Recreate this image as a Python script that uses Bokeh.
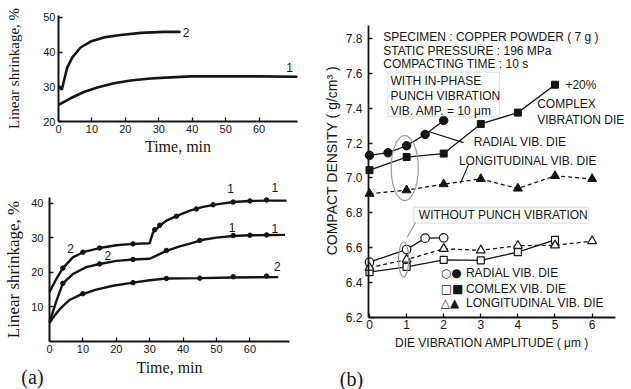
import math
from bokeh.plotting import figure
from bokeh.layouts import row, column
from bokeh.models import Label, BoxAnnotation, FixedTicker, Range1d
from bokeh.embed import file_html
from bokeh.resources import INLINE

# ---------------- Panel (a) upper: linear shrinkage vs time ----------------
top_c2_time = [0, 1.0, 1.6, 2.6, 4.1, 6.6, 9.6, 13.6, 18.6, 24.6, 31.5, 36.5]
top_c2_shrink = [30.0, 29.2, 31.6, 35.5, 38.4, 41.3, 43.0, 44.2, 44.9, 45.5, 45.8, 45.8]
top_c1_time = [0, 3.6, 7.6, 11.6, 16.6, 21.6, 27.5, 33.5, 39.5, 50, 60, 71.5]
top_c1_shrink = [24.8, 26.7, 28.5, 29.8, 31.0, 31.8, 32.4, 32.7, 33.0, 33.0, 33.0, 32.9]
top_time_ticks = [0, 10, 20, 30, 40, 50, 60]
top_shrink_ticks = [20, 30, 40, 50]

# ---------------- Panel (a) lower: linear shrinkage vs time ----------------
bot_up_time = [0, 2, 4, 7, 10, 15, 20, 25, 30, 31, 33, 35, 38, 42, 46, 50, 55, 60, 65, 71]
bot_up_shrink = [14.3, 18.0, 21.2, 24.3, 25.8, 27.0, 27.8, 28.2, 28.4, 31.5, 33.5, 34.9,
                 36.2, 37.8, 38.9, 39.6, 40.3, 40.6, 40.7, 40.7]
bot_mid_time = [0, 2, 4, 7, 11, 15, 20, 25, 30, 32, 35, 39, 42, 46, 50, 55, 60, 70.5]
bot_mid_shrink = [5.5, 11.5, 16.8, 19.5, 21.5, 22.4, 23.3, 23.7, 23.9, 24.8, 26.2, 27.5,
                  28.3, 29.4, 30.0, 30.5, 30.7, 30.8]
bot_low_time = [0, 1.3, 3.3, 6, 9, 14, 19, 25, 30, 35, 45, 55, 68.5]
bot_low_shrink = [5.3, 7.2, 9.6, 12.0, 13.4, 15.0, 16.1, 17.0, 17.7, 18.2, 18.3, 18.5, 18.6]
# measured points (dots on the curves)
bot_up_pt_time = [4, 10, 15, 25, 31.5, 33, 38, 44, 49, 55, 60, 65]
bot_up_pt_shrink = [21.2, 25.8, 27.0, 28.2, 32.3, 33.6, 36.2, 38.3, 39.5, 40.3, 40.6, 40.9]
bot_mid_pt_time = [4, 15, 25, 35, 45, 55, 60, 65]
bot_mid_pt_shrink = [16.8, 22.4, 23.7, 26.3, 29.2, 30.6, 30.7, 30.8]
bot_low_pt_time = [10, 25, 35, 45, 55, 65]
bot_low_pt_shrink = [13.8, 17.0, 18.2, 18.3, 18.7, 18.9]
bot_time_ticks = [0, 10, 20, 30, 40, 50, 60]
bot_shrink_ticks = [10, 20, 30, 40]

# ---------------- Panel (b): compact density vs die vibration amplitude ----------------
amp_radial_with = [0, 0.5, 1, 1.5, 2]
dens_radial_with = [7.13, 7.145, 7.185, 7.25, 7.33]
amp_complex_with = [0, 1, 2, 3, 4, 5]
dens_complex_with = [7.045, 7.12, 7.14, 7.31, 7.375, 7.535]
amp_long_with = [0, 1, 2, 3, 4, 5, 6]
dens_long_with = [6.91, 6.93, 6.965, 6.995, 6.94, 7.012, 6.995]
amp_radial_wo = [0, 1, 1.5, 2]
dens_radial_wo = [6.517, 6.59, 6.655, 6.657]
amp_complex_wo = [0, 1, 2, 3, 4, 5]
dens_complex_wo = [6.46, 6.49, 6.53, 6.528, 6.575, 6.645]
amp_long_wo = [0, 1, 2, 3, 4, 5, 6]
dens_long_wo = [6.486, 6.532, 6.594, 6.585, 6.612, 6.614, 6.638]
amp_ticks = [0, 1, 2, 3, 4, 5, 6]
amp_tick_labels = ["0", "1", "2", "3", "4", "5", "6"]
dens_ticks = [6.2, 6.4, 6.6, 6.8, 7.0, 7.2, 7.4, 7.6, 7.8]
dens_tick_labels = ["6.2", "6.4", "6.6", "6.8", "7.0", "7.2", "7.4", "7.6", "7.8"]

INK = "#141414"
SANS = "Liberation Sans"
SERIF = "Liberation Serif"


def make_fig(w, h, xr, yr):
    # frame covers the whole canvas; axes are pinned with fixed_location
    p = figure(width=w, height=h, x_range=Range1d(*xr), y_range=Range1d(*yr),
               output_backend="svg", toolbar_location=None,
               min_border_left=0, min_border_right=0,
               min_border_top=0, min_border_bottom=0)
    p.xgrid.visible = False
    p.ygrid.visible = False
    p.outline_line_color = None
    p.background_fill_color = "white"
    p.border_fill_color = "white"
    return p


def style_axes(p, width, lsize, standoff_x, standoff_y, xloc, yloc, xb, yb):
    for ax in (p.xaxis[0], p.yaxis[0]):
        ax.axis_line_width = width
        ax.axis_line_color = INK
        ax.major_tick_in = 4
        ax.major_tick_out = 0
        ax.major_tick_line_width = 1.3
        ax.major_tick_line_color = INK
        ax.minor_tick_line_color = None
        ax.major_label_text_font = SANS
        ax.major_label_text_font_size = lsize
        ax.major_label_text_color = INK
        ax.axis_label_text_font_style = "normal"
        ax.axis_label_text_color = INK
    p.xaxis[0].major_label_standoff = standoff_x
    p.yaxis[0].major_label_standoff = standoff_y
    p.xaxis[0].fixed_location = xloc
    p.yaxis[0].fixed_location = yloc
    p.xaxis[0].bounds = xb
    p.yaxis[0].bounds = yb


def txt(p, x, y, t, size="12px", font=SANS, align="left", angle=0.0):
    p.add_layout(Label(x=x, y=y, text=t, text_font=font, text_font_size=size,
                       text_color=INK, text_align=align, text_baseline="middle",
                       angle=angle))


# ---------- Upper (a) ----------
pa1 = make_fig(305, 165, (-17.35, 73.89), (7.38, 54.81))
style_axes(pa1, 2, "11px", 3, 3, 20, 0, (0, 71.5), (20, 50.5))
pa1.xaxis.ticker = FixedTicker(ticks=top_time_ticks)
pa1.yaxis.ticker = FixedTicker(ticks=top_shrink_ticks)
pa1.xaxis.axis_label = "Time, min"
pa1.xaxis.axis_label_text_font = SERIF
pa1.xaxis.axis_label_text_font_size = "16px"
pa1.xaxis.axis_label_standoff = 2
pa1.yaxis.axis_label = "Linear shrinkage, %"
pa1.yaxis.axis_label_text_font = SERIF
pa1.yaxis.axis_label_text_font_size = "15px"
pa1.yaxis.axis_label_standoff = 18
pa1.line(top_c2_time, top_c2_shrink, line_width=2.6, line_color=INK)
pa1.line(top_c1_time, top_c1_shrink, line_width=2.6, line_color=INK)
txt(pa1, 38.2, 45.6, "2", align="center")
txt(pa1, 69.1, 35.55, "1", align="center")

# ---------- Lower (a) ----------
pa2 = make_fig(305, 224, (-14.67, 76.65), (-13.87, 50.85))
style_axes(pa2, 2, "11px", 4, 6, 0, 0, (0, 72), (0, 41.6))
pa2.xaxis.ticker = FixedTicker(ticks=bot_time_ticks)
pa2.yaxis.ticker = FixedTicker(ticks=bot_shrink_ticks)
pa2.xaxis.axis_label = "Time, min"
pa2.xaxis.axis_label_text_font = SERIF
pa2.xaxis.axis_label_text_font_size = "16px"
pa2.xaxis.axis_label_standoff = 2
pa2.yaxis.axis_label = "Linear shrinkage, %"
pa2.yaxis.axis_label_text_font = SERIF
pa2.yaxis.axis_label_text_font_size = "17px"
pa2.yaxis.axis_label_standoff = 5
for tx, ty in ((bot_up_time, bot_up_shrink), (bot_mid_time, bot_mid_shrink),
               (bot_low_time, bot_low_shrink)):
    pa2.line(tx, ty, line_width=2.4, line_color=INK)
for tx, ty in ((bot_up_pt_time, bot_up_pt_shrink), (bot_mid_pt_time, bot_mid_pt_shrink),
               (bot_low_pt_time, bot_low_pt_shrink)):
    pa2.scatter(tx, ty, marker="circle", size=4.5, fill_color=INK, line_color=INK)
txt(pa2, 6.3, 26.8, "2", align="center")
txt(pa2, 17.5, 24.8, "2", align="center")
txt(pa2, 54.2, 44.1, "1", align="center")
txt(pa2, 67.5, 44.6, "1", align="center")
txt(pa2, 54.7, 33.0, "1", align="center")
txt(pa2, 67.5, 32.6, "1", align="center")
txt(pa2, 68.2, 21.8, "2", align="center")
txt(pa2, -5.1, -10.4, "(a)", size="20px", font=SERIF, align="center")

# ---------- (b) ----------
pb = make_fig(326, 389, (-1.725, 7.062), (5.787, 8.018))
style_axes(pb, 1.8, "12px", 3, 6, 6.2, -0.027, (-0.027, 6.63), (6.2, 7.874))
pb.xaxis.ticker = FixedTicker(ticks=amp_ticks)
pb.xaxis.major_label_overrides = dict(zip(amp_ticks, amp_tick_labels))
pb.yaxis.ticker = FixedTicker(ticks=dens_ticks)
pb.yaxis.major_label_overrides = dict(zip(dens_ticks, dens_tick_labels))
pb.xaxis.axis_label = "DIE VIBRATION AMPLITUDE ( μm )"
pb.xaxis.axis_label_text_font = SANS
pb.xaxis.axis_label_text_font_size = "12px"
pb.xaxis.axis_label_standoff = 3

LW = 1.3
# with in-phase punch vibration (filled markers)
pb.line(amp_radial_with, dens_radial_with, line_width=LW, line_color=INK)
pb.scatter(amp_radial_with, dens_radial_with, marker="circle", size=8.5,
           fill_color=INK, line_color=INK)
pb.line(amp_complex_with, dens_complex_with, line_width=LW, line_color=INK)
pb.scatter(amp_complex_with, dens_complex_with, marker="square", size=7,
           fill_color=INK, line_color=INK)
pb.line(amp_long_with, dens_long_with, line_width=LW, line_color=INK, line_dash="4 3")
pb.scatter(amp_long_with, dens_long_with, marker="triangle", size=9,
           fill_color=INK, line_color=INK)
# without punch vibration (open markers)
pb.line(amp_radial_wo, dens_radial_wo, line_width=LW, line_color=INK)
pb.scatter(amp_radial_wo, dens_radial_wo, marker="circle", size=8.5,
           fill_color="white", line_color=INK, line_width=1.2)
pb.line(amp_complex_wo, dens_complex_wo, line_width=LW, line_color=INK)
pb.scatter(amp_complex_wo, dens_complex_wo, marker="square", size=7,
           fill_color="white", line_color=INK, line_width=1.2)
pb.line(amp_long_wo, dens_long_wo, line_width=LW, line_color=INK, line_dash="4 3")
pb.scatter(amp_long_wo, dens_long_wo, marker="triangle", size=9,
           fill_color="white", line_color=INK, line_width=1.2)

GRAY = "#9a9a9a"
# highlight ellipses and boxes
pb.ellipse(x=[0.95], y=[7.057], width=0.73, height=0.373, fill_color=None,
           line_color=GRAY, line_width=1.2)
pb.ellipse(x=[0.92], y=[6.533], width=0.27, height=0.2, fill_color=None,
           line_color=GRAY, line_width=1.2)
pb.segment(x0=[1.016], y0=[6.660], x1=[1.24], y1=[6.746], line_color=GRAY, line_width=1.2)
pb.add_layout(BoxAnnotation(left=0.493, right=3.504, bottom=7.353, top=7.607,
                            fill_color=None, line_color=GRAY, line_width=1.2))
pb.add_layout(BoxAnnotation(left=1.194, right=5.911, bottom=6.741, top=6.832,
                            fill_color=None, line_color=GRAY, line_width=1.2))
# leader lines
pb.segment(x0=[1.59], y0=[7.267], x1=[2.534], y1=[7.203], line_color=INK, line_width=1.1)
pb.segment(x0=[2.453], y0=[6.970], x1=[2.677], y1=[7.081], line_color=INK, line_width=1.1)

txt(pb, 0.37, 7.811, "SPECIMEN : COPPER POWDER ( 7 g )")
txt(pb, 0.37, 7.731, "STATIC PRESSURE : 196 MPa")
txt(pb, 0.37, 7.651, "COMPACTING TIME : 10 s")
txt(pb, 0.566, 7.559, "WITH IN-PHASE")
txt(pb, 0.566, 7.473, "PUNCH VIBRATION")
txt(pb, 0.566, 7.387, "VIB. AMP. = 10 μm")
txt(pb, 5.28, 7.536, "+20%")
txt(pb, 4.52, 7.425, "COMPLEX")
txt(pb, 4.52, 7.334, "VIBRATION DIE")
txt(pb, 2.81, 7.209, "RADIAL VIB. DIE")
txt(pb, 2.41, 7.100, "LONGITUDINAL VIB. DIE")
txt(pb, 1.33, 6.785, "WITHOUT PUNCH VIBRATION")
txt(pb, 1.92, 6.454, "○●", size="12px", font="DejaVu Sans")
txt(pb, 1.92, 6.365, "□■", size="12px", font="DejaVu Sans")
txt(pb, 1.92, 6.282, "△▲", size="12px", font="DejaVu Sans")
txt(pb, 2.6, 6.454, "RADIAL VIB. DIE")
txt(pb, 2.6, 6.365, "COMLEX VIB. DIE")
txt(pb, 2.6, 6.282, "LONGITUDINAL VIB. DIE")
txt(pb, -1.0, 7.10, "COMPACT DENSITY ( g/cm³ )", size="14px", align="center",
    angle=math.pi / 2)
txt(pb, -0.485, 5.850, "(b)", size="20px", font=SERIF, align="center")

layout = row(column(pa1, pa2), pb)
open("out.html", "w").write(file_html(layout, INLINE))
